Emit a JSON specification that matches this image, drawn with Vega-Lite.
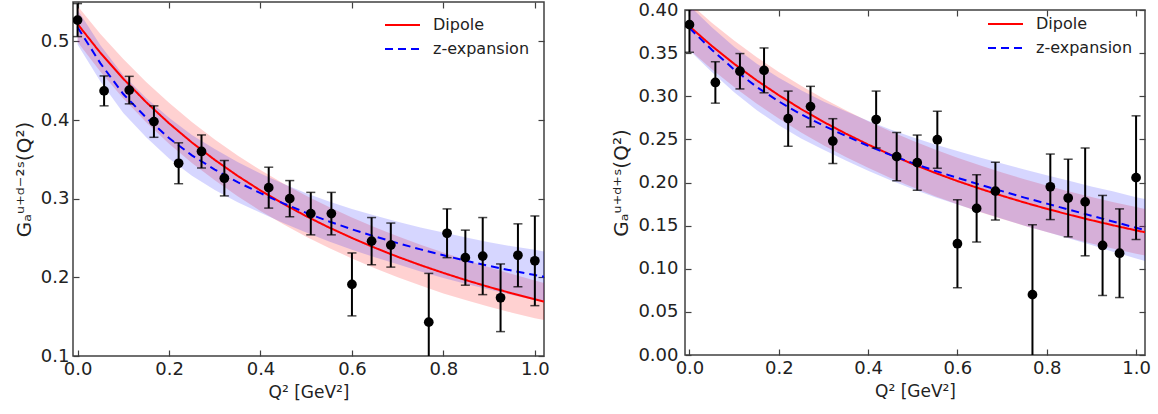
{
  "$schema": "https://vega.github.io/schema/vega-lite/v6.json",
  "padding": {"left": 13, "top": 0, "right": 5, "bottom": 5},
  "spacing": 61,
  "resolve": {"scale": {"color": "independent", "strokeDash": "independent"}, "legend": {"color": "independent", "strokeDash": "independent"}},
  "config": {
    "font": "DejaVu Sans",
    "view": {"stroke": "#404040", "strokeWidth": 1.5},
    "axis": {"domain": false, "grid": false, "labelFont": "DejaVu Sans", "labelFontSize": 18, "labelColor": "#222222", "titleFont": "DejaVu Sans", "titleFontSize": 17, "titleFontWeight": "normal", "titleColor": "#222222", "tickColor": "#404040", "tickSize": -6, "tickWidth": 1.2, "labelPadding": 10},
    "legend": {"padding": 0, "symbolType": "stroke", "symbolSize": 1225, "symbolStrokeWidth": 2, "clipHeight": 16, "rowPadding": 8, "labelOffset": 12, "labelFont": "DejaVu Sans", "labelFontSize": 16, "labelColor": "#222222"}
  },
  "datasets": {
    "leftCurves": [
      {"q2": 0.00, "series": "Dipole", "y": 0.5220, "lo": 0.4990, "hi": 0.5450},
      {"q2": 0.05, "series": "Dipole", "y": 0.4853, "lo": 0.4613, "hi": 0.5093},
      {"q2": 0.10, "series": "Dipole", "y": 0.4524, "lo": 0.4274, "hi": 0.4774},
      {"q2": 0.15, "series": "Dipole", "y": 0.4227, "lo": 0.3972, "hi": 0.4482},
      {"q2": 0.20, "series": "Dipole", "y": 0.3958, "lo": 0.3698, "hi": 0.4218},
      {"q2": 0.25, "series": "Dipole", "y": 0.3714, "lo": 0.3454, "hi": 0.3974},
      {"q2": 0.30, "series": "Dipole", "y": 0.3493, "lo": 0.3233, "hi": 0.3753},
      {"q2": 0.35, "series": "Dipole", "y": 0.3290, "lo": 0.3030, "hi": 0.3550},
      {"q2": 0.40, "series": "Dipole", "y": 0.3104, "lo": 0.2844, "hi": 0.3364},
      {"q2": 0.45, "series": "Dipole", "y": 0.2934, "lo": 0.2674, "hi": 0.3194},
      {"q2": 0.50, "series": "Dipole", "y": 0.2777, "lo": 0.2517, "hi": 0.3037},
      {"q2": 0.55, "series": "Dipole", "y": 0.2633, "lo": 0.2373, "hi": 0.2893},
      {"q2": 0.60, "series": "Dipole", "y": 0.2500, "lo": 0.2240, "hi": 0.2760},
      {"q2": 0.65, "series": "Dipole", "y": 0.2376, "lo": 0.2116, "hi": 0.2636},
      {"q2": 0.70, "series": "Dipole", "y": 0.2261, "lo": 0.2001, "hi": 0.2521},
      {"q2": 0.75, "series": "Dipole", "y": 0.2155, "lo": 0.1895, "hi": 0.2415},
      {"q2": 0.80, "series": "Dipole", "y": 0.2056, "lo": 0.1796, "hi": 0.2316},
      {"q2": 0.85, "series": "Dipole", "y": 0.1963, "lo": 0.1708, "hi": 0.2218},
      {"q2": 0.90, "series": "Dipole", "y": 0.1877, "lo": 0.1627, "hi": 0.2127},
      {"q2": 0.95, "series": "Dipole", "y": 0.1796, "lo": 0.1551, "hi": 0.2041},
      {"q2": 1.00, "series": "Dipole", "y": 0.1720, "lo": 0.1480, "hi": 0.1960},
      {"q2": 1.02, "series": "Dipole", "y": 0.1692, "lo": 0.1457, "hi": 0.1927},
      {"q2": 0.00, "series": "z-expansion", "y": 0.5180, "lo": 0.4960, "hi": 0.5400},
      {"q2": 0.05, "series": "z-expansion", "y": 0.4720, "lo": 0.4490, "hi": 0.4950},
      {"q2": 0.10, "series": "z-expansion", "y": 0.4330, "lo": 0.4090, "hi": 0.4570},
      {"q2": 0.15, "series": "z-expansion", "y": 0.4030, "lo": 0.3780, "hi": 0.4280},
      {"q2": 0.20, "series": "z-expansion", "y": 0.3770, "lo": 0.3510, "hi": 0.4030},
      {"q2": 0.25, "series": "z-expansion", "y": 0.3550, "lo": 0.3290, "hi": 0.3810},
      {"q2": 0.30, "series": "z-expansion", "y": 0.3370, "lo": 0.3110, "hi": 0.3630},
      {"q2": 0.35, "series": "z-expansion", "y": 0.3210, "lo": 0.2955, "hi": 0.3465},
      {"q2": 0.40, "series": "z-expansion", "y": 0.3070, "lo": 0.2820, "hi": 0.3320},
      {"q2": 0.45, "series": "z-expansion", "y": 0.2940, "lo": 0.2690, "hi": 0.3190},
      {"q2": 0.50, "series": "z-expansion", "y": 0.2820, "lo": 0.2570, "hi": 0.3070},
      {"q2": 0.55, "series": "z-expansion", "y": 0.2710, "lo": 0.2455, "hi": 0.2965},
      {"q2": 0.60, "series": "z-expansion", "y": 0.2610, "lo": 0.2350, "hi": 0.2870},
      {"q2": 0.65, "series": "z-expansion", "y": 0.2520, "lo": 0.2255, "hi": 0.2785},
      {"q2": 0.70, "series": "z-expansion", "y": 0.2435, "lo": 0.2165, "hi": 0.2705},
      {"q2": 0.75, "series": "z-expansion", "y": 0.2355, "lo": 0.2075, "hi": 0.2635},
      {"q2": 0.80, "series": "z-expansion", "y": 0.2280, "lo": 0.1990, "hi": 0.2570},
      {"q2": 0.85, "series": "z-expansion", "y": 0.2210, "lo": 0.1915, "hi": 0.2505},
      {"q2": 0.90, "series": "z-expansion", "y": 0.2145, "lo": 0.1845, "hi": 0.2445},
      {"q2": 0.95, "series": "z-expansion", "y": 0.2085, "lo": 0.1775, "hi": 0.2395},
      {"q2": 1.00, "series": "z-expansion", "y": 0.2030, "lo": 0.1710, "hi": 0.2350},
      {"q2": 1.02, "series": "z-expansion", "y": 0.2008, "lo": 0.1688, "hi": 0.2328}
    ],
    "rightCurves": [
      {"q2": 0.00, "series": "Dipole", "y": 0.3810, "lo": 0.3540, "hi": 0.4080},
      {"q2": 0.05, "series": "Dipole", "y": 0.3583, "lo": 0.3313, "hi": 0.3853},
      {"q2": 0.10, "series": "Dipole", "y": 0.3376, "lo": 0.3106, "hi": 0.3646},
      {"q2": 0.15, "series": "Dipole", "y": 0.3186, "lo": 0.2916, "hi": 0.3456},
      {"q2": 0.20, "series": "Dipole", "y": 0.3012, "lo": 0.2742, "hi": 0.3282},
      {"q2": 0.25, "series": "Dipole", "y": 0.2851, "lo": 0.2581, "hi": 0.3121},
      {"q2": 0.30, "series": "Dipole", "y": 0.2703, "lo": 0.2433, "hi": 0.2973},
      {"q2": 0.35, "series": "Dipole", "y": 0.2567, "lo": 0.2297, "hi": 0.2837},
      {"q2": 0.40, "series": "Dipole", "y": 0.2440, "lo": 0.2170, "hi": 0.2710},
      {"q2": 0.45, "series": "Dipole", "y": 0.2323, "lo": 0.2053, "hi": 0.2593},
      {"q2": 0.50, "series": "Dipole", "y": 0.2214, "lo": 0.1944, "hi": 0.2484},
      {"q2": 0.55, "series": "Dipole", "y": 0.2112, "lo": 0.1842, "hi": 0.2382},
      {"q2": 0.60, "series": "Dipole", "y": 0.2017, "lo": 0.1747, "hi": 0.2287},
      {"q2": 0.65, "series": "Dipole", "y": 0.1929, "lo": 0.1659, "hi": 0.2199},
      {"q2": 0.70, "series": "Dipole", "y": 0.1846, "lo": 0.1576, "hi": 0.2116},
      {"q2": 0.75, "series": "Dipole", "y": 0.1768, "lo": 0.1498, "hi": 0.2038},
      {"q2": 0.80, "series": "Dipole", "y": 0.1695, "lo": 0.1425, "hi": 0.1965},
      {"q2": 0.85, "series": "Dipole", "y": 0.1627, "lo": 0.1357, "hi": 0.1897},
      {"q2": 0.90, "series": "Dipole", "y": 0.1563, "lo": 0.1293, "hi": 0.1833},
      {"q2": 0.95, "series": "Dipole", "y": 0.1502, "lo": 0.1232, "hi": 0.1772},
      {"q2": 1.00, "series": "Dipole", "y": 0.1445, "lo": 0.1175, "hi": 0.1715},
      {"q2": 1.02, "series": "Dipole", "y": 0.1423, "lo": 0.1153, "hi": 0.1693},
      {"q2": 0.00, "series": "z-expansion", "y": 0.3790, "lo": 0.3530, "hi": 0.4050},
      {"q2": 0.05, "series": "z-expansion", "y": 0.3540, "lo": 0.3280, "hi": 0.3800},
      {"q2": 0.10, "series": "z-expansion", "y": 0.3310, "lo": 0.3045, "hi": 0.3575},
      {"q2": 0.15, "series": "z-expansion", "y": 0.3110, "lo": 0.2840, "hi": 0.3380},
      {"q2": 0.20, "series": "z-expansion", "y": 0.2940, "lo": 0.2665, "hi": 0.3215},
      {"q2": 0.25, "series": "z-expansion", "y": 0.2790, "lo": 0.2510, "hi": 0.3070},
      {"q2": 0.30, "series": "z-expansion", "y": 0.2660, "lo": 0.2380, "hi": 0.2940},
      {"q2": 0.35, "series": "z-expansion", "y": 0.2540, "lo": 0.2255, "hi": 0.2825},
      {"q2": 0.40, "series": "z-expansion", "y": 0.2425, "lo": 0.2135, "hi": 0.2715},
      {"q2": 0.45, "series": "z-expansion", "y": 0.2320, "lo": 0.2025, "hi": 0.2615},
      {"q2": 0.50, "series": "z-expansion", "y": 0.2225, "lo": 0.1925, "hi": 0.2525},
      {"q2": 0.55, "series": "z-expansion", "y": 0.2135, "lo": 0.1830, "hi": 0.2440},
      {"q2": 0.60, "series": "z-expansion", "y": 0.2055, "lo": 0.1745, "hi": 0.2365},
      {"q2": 0.65, "series": "z-expansion", "y": 0.1975, "lo": 0.1660, "hi": 0.2290},
      {"q2": 0.70, "series": "z-expansion", "y": 0.1900, "lo": 0.1580, "hi": 0.2220},
      {"q2": 0.75, "series": "z-expansion", "y": 0.1825, "lo": 0.1500, "hi": 0.2150},
      {"q2": 0.80, "series": "z-expansion", "y": 0.1755, "lo": 0.1425, "hi": 0.2085},
      {"q2": 0.85, "series": "z-expansion", "y": 0.1685, "lo": 0.1350, "hi": 0.2020},
      {"q2": 0.90, "series": "z-expansion", "y": 0.1615, "lo": 0.1275, "hi": 0.1955},
      {"q2": 0.95, "series": "z-expansion", "y": 0.1545, "lo": 0.1195, "hi": 0.1895},
      {"q2": 1.00, "series": "z-expansion", "y": 0.1475, "lo": 0.1120, "hi": 0.1830},
      {"q2": 1.02, "series": "z-expansion", "y": 0.1450, "lo": 0.1090, "hi": 0.1810}
    ],
    "leftPts": [
      {"q2": 0.000, "y": 0.527, "err": 0.021},
      {"q2": 0.058, "y": 0.437, "err": 0.019},
      {"q2": 0.113, "y": 0.438, "err": 0.0175},
      {"q2": 0.167, "y": 0.398, "err": 0.020},
      {"q2": 0.221, "y": 0.345, "err": 0.026},
      {"q2": 0.271, "y": 0.360, "err": 0.021},
      {"q2": 0.321, "y": 0.326, "err": 0.0225},
      {"q2": 0.418, "y": 0.314, "err": 0.026},
      {"q2": 0.464, "y": 0.300, "err": 0.023},
      {"q2": 0.510, "y": 0.281, "err": 0.027},
      {"q2": 0.555, "y": 0.281, "err": 0.027},
      {"q2": 0.600, "y": 0.191, "err": 0.040},
      {"q2": 0.643, "y": 0.246, "err": 0.030},
      {"q2": 0.685, "y": 0.241, "err": 0.028},
      {"q2": 0.768, "y": 0.143, "err": 0.062},
      {"q2": 0.808, "y": 0.256, "err": 0.031},
      {"q2": 0.848, "y": 0.225, "err": 0.035},
      {"q2": 0.886, "y": 0.227, "err": 0.049},
      {"q2": 0.925, "y": 0.174, "err": 0.043},
      {"q2": 0.963, "y": 0.228, "err": 0.040},
      {"q2": 1.000, "y": 0.221, "err": 0.057}
    ],
    "rightPts": [
      {"q2": 0.000, "y": 0.383, "err": 0.032},
      {"q2": 0.058, "y": 0.316, "err": 0.024},
      {"q2": 0.113, "y": 0.329, "err": 0.0205},
      {"q2": 0.167, "y": 0.330, "err": 0.026},
      {"q2": 0.221, "y": 0.274, "err": 0.032},
      {"q2": 0.271, "y": 0.288, "err": 0.0235},
      {"q2": 0.321, "y": 0.248, "err": 0.026},
      {"q2": 0.418, "y": 0.273, "err": 0.033},
      {"q2": 0.464, "y": 0.230, "err": 0.028},
      {"q2": 0.510, "y": 0.223, "err": 0.032},
      {"q2": 0.555, "y": 0.2496, "err": 0.033},
      {"q2": 0.600, "y": 0.129, "err": 0.051},
      {"q2": 0.643, "y": 0.170, "err": 0.039},
      {"q2": 0.685, "y": 0.190, "err": 0.0335},
      {"q2": 0.768, "y": 0.070, "err": 0.081},
      {"q2": 0.808, "y": 0.195, "err": 0.038},
      {"q2": 0.848, "y": 0.182, "err": 0.045},
      {"q2": 0.886, "y": 0.1775, "err": 0.0625},
      {"q2": 0.925, "y": 0.127, "err": 0.058},
      {"q2": 0.963, "y": 0.118, "err": 0.0514},
      {"q2": 1.000, "y": 0.2056, "err": 0.0717}
    ]
  },
  "hconcat": [
    {
      "width": 471,
      "height": 354,
      "resolve": {"axis": {"x": "independent", "y": "independent"}},
      "layer": [
        {
          "data": {"name": "leftCurves"},
          "transform": [{"filter": {"field": "series", "equal": "Dipole"}}],
          "mark": {"type": "area", "clip": true, "color": "#ff0000", "fillOpacity": 0.18},
          "encoding": {
            "x": {"field": "q2", "type": "quantitative", "scale": {"domain": [-0.01, 1.02], "nice": false, "zero": false},
                  "axis": {"title": "Q² [GeV²]", "values": [0, 0.2, 0.4, 0.6, 0.8, 1.0], "format": ".1f", "titlePadding": 6}},
            "y": {"field": "lo", "type": "quantitative", "scale": {"domain": [0.1, 0.55], "nice": false, "zero": false},
                  "axis": {"title": "Gₐᵘ⁺ᵈ⁻²ˢ(Q²)", "titleFontSize": 20, "values": [0.1, 0.2, 0.3, 0.4, 0.5], "format": ".1f", "titlePadding": 6}},
            "y2": {"field": "hi"}
          }
        },
        {
          "data": {"name": "leftCurves"},
          "transform": [{"filter": {"field": "series", "equal": "z-expansion"}}],
          "mark": {"type": "area", "clip": true, "color": "#0000ff", "fillOpacity": 0.16},
          "encoding": {
            "x": {"field": "q2", "type": "quantitative", "scale": {"domain": [-0.01, 1.02], "nice": false, "zero": false}, "axis": null},
            "y": {"field": "lo", "type": "quantitative", "scale": {"domain": [0.1, 0.55], "nice": false, "zero": false}, "axis": null},
            "y2": {"field": "hi"}
          }
        },
        {
          "data": {"name": "leftCurves"},
          "mark": {"type": "line", "clip": true, "strokeWidth": 2},
          "encoding": {
            "x": {"field": "q2", "type": "quantitative", "scale": {"domain": [-0.01, 1.02], "nice": false, "zero": false},
                  "axis": {"orient": "top", "labels": false, "title": null, "values": [0, 0.2, 0.4, 0.6, 0.8, 1.0]}},
            "y": {"field": "y", "type": "quantitative", "scale": {"domain": [0.1, 0.55], "nice": false, "zero": false},
                  "axis": {"orient": "right", "labels": false, "title": null, "values": [0.1, 0.2, 0.3, 0.4, 0.5]}},
            "color": {"field": "series", "type": "nominal", "scale": {"domain": ["Dipole", "z-expansion"], "range": ["#ff0000", "#0000ff"]},
                       "legend": {"title": null, "orient": "none", "legendX": 311, "legendY": 15}},
            "strokeDash": {"field": "series", "type": "nominal", "scale": {"domain": ["Dipole", "z-expansion"], "range": [[1, 0], [8, 5]]},
                       "legend": {"title": null, "orient": "none", "legendX": 311, "legendY": 15}}
          }
        },
        {
          "data": {"name": "leftPts"},
          "mark": {"type": "errorbar", "clip": true, "color": "black", "ticks": {"size": 9, "thickness": 1.5, "color": "black"}, "rule": {"strokeWidth": 2, "color": "black"}},
          "encoding": {
            "x": {"field": "q2", "type": "quantitative", "scale": {"domain": [-0.01, 1.02], "nice": false, "zero": false}, "axis": null},
            "y": {"field": "y", "type": "quantitative", "scale": {"domain": [0.1, 0.55], "nice": false, "zero": false}, "axis": null},
            "yError": {"field": "err"}
          }
        },
        {
          "data": {"name": "leftPts"},
          "mark": {"type": "point", "filled": true, "clip": true, "size": 95, "color": "black", "opacity": 1},
          "encoding": {
            "x": {"field": "q2", "type": "quantitative", "scale": {"domain": [-0.01, 1.02], "nice": false, "zero": false}, "axis": null},
            "y": {"field": "y", "type": "quantitative", "scale": {"domain": [0.1, 0.55], "nice": false, "zero": false}, "axis": null}
          }
        }
      ]
    },
    {
      "spacing": -3,
      "vconcat": [
        {
          "width": 1,
          "height": 1,
          "view": {"stroke": null},
          "data": {"values": [{"q2": 0}]},
          "mark": {"type": "point", "opacity": 0, "size": 0},
          "encoding": {}
        },
        {
          "width": 460,
          "height": 345,
          "resolve": {"axis": {"x": "independent", "y": "independent"}},
          "layer": [
            {
              "data": {"name": "rightCurves"},
              "transform": [{"filter": {"field": "series", "equal": "Dipole"}}],
              "mark": {"type": "area", "clip": true, "color": "#ff0000", "fillOpacity": 0.18},
              "encoding": {
                "x": {"field": "q2", "type": "quantitative", "scale": {"domain": [-0.01, 1.02], "nice": false, "zero": false},
                      "axis": {"title": "Q² [GeV²]", "values": [0, 0.2, 0.4, 0.6, 0.8, 1.0], "format": ".1f", "titlePadding": 6}},
                "y": {"field": "lo", "type": "quantitative", "scale": {"domain": [0, 0.4], "nice": false, "zero": false},
                      "axis": {"title": "Gₐᵘ⁺ᵈ⁺ˢ(Q²)", "titleFontSize": 20, "values": [0, 0.05, 0.1, 0.15, 0.2, 0.25, 0.3, 0.35, 0.4], "format": ".2f", "titlePadding": 6, "labelPadding": 13}},
                "y2": {"field": "hi"}
              }
            },
            {
              "data": {"name": "rightCurves"},
              "transform": [{"filter": {"field": "series", "equal": "z-expansion"}}],
              "mark": {"type": "area", "clip": true, "color": "#0000ff", "fillOpacity": 0.16},
              "encoding": {
                "x": {"field": "q2", "type": "quantitative", "scale": {"domain": [-0.01, 1.02], "nice": false, "zero": false}, "axis": null},
                "y": {"field": "lo", "type": "quantitative", "scale": {"domain": [0, 0.4], "nice": false, "zero": false}, "axis": null},
                "y2": {"field": "hi"}
              }
            },
            {
              "data": {"name": "rightCurves"},
              "mark": {"type": "line", "clip": true, "strokeWidth": 2},
              "encoding": {
                "x": {"field": "q2", "type": "quantitative", "scale": {"domain": [-0.01, 1.02], "nice": false, "zero": false},
                      "axis": {"orient": "top", "labels": false, "title": null, "values": [0, 0.2, 0.4, 0.6, 0.8, 1.0]}},
                "y": {"field": "y", "type": "quantitative", "scale": {"domain": [0, 0.4], "nice": false, "zero": false},
                      "axis": {"orient": "right", "labels": false, "title": null, "values": [0, 0.05, 0.1, 0.15, 0.2, 0.25, 0.3, 0.35, 0.4]}},
                "color": {"field": "series", "type": "nominal", "scale": {"domain": ["Dipole", "z-expansion"], "range": ["#ff0000", "#0000ff"]},
                           "legend": {"title": null, "orient": "none", "legendX": 302, "legendY": 14}},
                "strokeDash": {"field": "series", "type": "nominal", "scale": {"domain": ["Dipole", "z-expansion"], "range": [[1, 0], [8, 5]]},
                           "legend": {"title": null, "orient": "none", "legendX": 302, "legendY": 14}}
              }
            },
            {
              "data": {"name": "rightPts"},
              "mark": {"type": "errorbar", "clip": true, "color": "black", "ticks": {"size": 9, "thickness": 1.5, "color": "black"}, "rule": {"strokeWidth": 2, "color": "black"}},
              "encoding": {
                "x": {"field": "q2", "type": "quantitative", "scale": {"domain": [-0.01, 1.02], "nice": false, "zero": false}, "axis": null},
                "y": {"field": "y", "type": "quantitative", "scale": {"domain": [0, 0.4], "nice": false, "zero": false}, "axis": null},
                "yError": {"field": "err"}
              }
            },
            {
              "data": {"name": "rightPts"},
              "mark": {"type": "point", "filled": true, "clip": true, "size": 95, "color": "black", "opacity": 1},
              "encoding": {
                "x": {"field": "q2", "type": "quantitative", "scale": {"domain": [-0.01, 1.02], "nice": false, "zero": false}, "axis": null},
                "y": {"field": "y", "type": "quantitative", "scale": {"domain": [0, 0.4], "nice": false, "zero": false}, "axis": null}
              }
            }
          ]
        }
      ]
    }
  ]
}
